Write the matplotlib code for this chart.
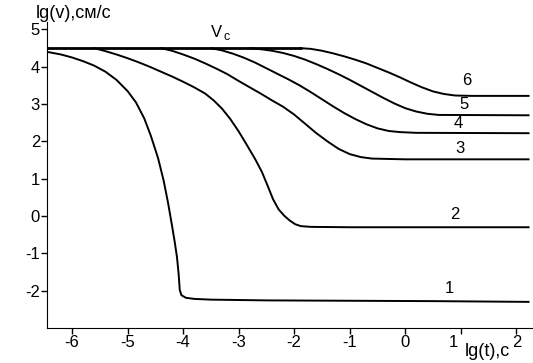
import matplotlib
matplotlib.use('Agg')
import matplotlib.pyplot as plt
from matplotlib.transforms import ScaledTranslation

plt.rcParams['font.family'] = ['Liberation Sans', 'DejaVu Sans']

# V_c plateau shared by all curves at the start
vc_level = 4.5
vc_t = [-6.45, -1.85]

# curve 1
c1_t = [-6.45, -6.2, -6.0, -5.8, -5.6, -5.4, -5.2, -5.0, -4.85, -4.7, -4.58, -4.45, -4.35, -4.27,
        -4.2, -4.15, -4.11, -4.08, -4.06, -4.03, -3.95, -3.8, -3.5, -2.5, -1.0, 0.5, 2.22]
c1_v = [4.40, 4.33, 4.25, 4.15, 4.03, 3.87, 3.65, 3.35, 3.05, 2.62, 2.15, 1.55, 0.95, 0.35,
        -0.25, -0.70, -1.10, -1.55, -1.98, -2.12, -2.19, -2.22, -2.24, -2.26, -2.27, -2.28, -2.30]
# curve 2
c2_t = [-5.6, -5.4, -5.2, -5.0, -4.8, -4.6, -4.4, -4.2, -4.0, -3.8, -3.6, -3.45, -3.3, -3.15,
        -3.0, -2.85, -2.7, -2.58, -2.48, -2.38, -2.28, -2.18, -2.08, -1.98, -1.88, -1.7, -1.0, 2.22]
c2_v = [4.50, 4.42, 4.33, 4.23, 4.12, 4.00, 3.87, 3.74, 3.60, 3.45, 3.28, 3.10, 2.88, 2.60,
        2.27, 1.90, 1.52, 1.18, 0.82, 0.45, 0.18, 0.01, -0.12, -0.22, -0.27, -0.29, -0.30, -0.30]
# curve 3
c3_t = [-4.4, -4.2, -4.0, -3.8, -3.6, -3.4, -3.2, -3.0, -2.8, -2.6, -2.4, -2.2, -2.0, -1.8,
        -1.6, -1.4, -1.2, -1.0, -0.8, -0.6, 0.0, 2.22]
c3_v = [4.50, 4.43, 4.33, 4.22, 4.09, 3.95, 3.80, 3.62, 3.45, 3.28, 3.10, 2.93, 2.72, 2.47,
        2.22, 2.00, 1.80, 1.66, 1.58, 1.54, 1.52, 1.52]
# curve 4
c4_t = [-3.5, -3.3, -3.1, -2.9, -2.7, -2.5, -2.3, -2.1, -1.9, -1.7, -1.5, -1.3, -1.1, -0.9,
        -0.7, -0.5, -0.3, -0.1, 0.2, 2.22]
c4_v = [4.50, 4.44, 4.35, 4.24, 4.11, 3.96, 3.81, 3.66, 3.50, 3.32, 3.13, 2.94, 2.76, 2.60,
        2.46, 2.35, 2.28, 2.25, 2.23, 2.22]
# curve 5
c5_t = [-2.8, -2.6, -2.4, -2.2, -2.0, -1.8, -1.6, -1.4, -1.2, -1.0, -0.8, -0.6, -0.4, -0.2,
        0.0, 0.2, 0.4, 0.6, 2.22]
c5_v = [4.50, 4.47, 4.43, 4.37, 4.29, 4.19, 4.07, 3.94, 3.80, 3.65, 3.49, 3.33, 3.17, 3.02,
        2.89, 2.80, 2.74, 2.71, 2.70]
# curve 6
c6_t = [-1.9, -1.7, -1.5, -1.3, -1.1, -0.9, -0.7, -0.5, -0.3, -0.1, 0.1, 0.3, 0.5, 0.7,
        0.9, 1.2, 2.22]
c6_v = [4.50, 4.48, 4.43, 4.36, 4.28, 4.19, 4.09, 3.97, 3.85, 3.72, 3.58, 3.45, 3.34, 3.27,
        3.23, 3.22, 3.22]

curve_labels = ['1', '2', '3', '4', '5', '6']
label_t = [0.80, 0.89, 0.98, 0.96, 1.06, 1.10]
label_v = [-1.93, 0.03, 1.82, 2.49, 2.98, 3.62]

x_ticks = [-6, -5, -4, -3, -2, -1, 0, 1, 2]
y_ticks = [-2, -1, 0, 1, 2, 3, 4, 5]

fig = plt.figure(figsize=(5.33, 3.63), dpi=100)
ax = fig.add_axes([47 / 533, 35 / 363, 1 - 47 / 533, (328 - 22) / 363])

ax.plot(vc_t, [vc_level, vc_level], color='black', lw=2.0, solid_capstyle='butt')
curves = [(c1_t, c1_v), (c2_t, c2_v), (c3_t, c3_v), (c4_t, c4_v), (c5_t, c5_v), (c6_t, c6_v)]
for t, v in curves:
    ax.plot(t, v, color='black', lw=1.4)

for lab, t, v in zip(curve_labels, label_t, label_v):
    ax.text(t, v, lab, fontsize=12, ha='center', va='center')

ax.text(-3.39, 4.93, 'V', fontsize=12, ha='center', va='center')
ax.text(-3.22, 4.80, 'с', fontsize=9, ha='center', va='center')

ax.set_xlim(-6.45, 2.3)
ax.set_ylim(-3.0, 5.2)
ax.set_xticks(x_ticks)
ax.set_yticks(y_ticks)
ax.set_xticklabels([str(x) for x in x_ticks])
ax.set_yticklabels([str(y) for y in y_ticks])
ax.tick_params(direction='out', length=4, width=1, labelsize=12, pad=1)
ax.spines['top'].set_visible(False)
ax.spines['right'].set_visible(False)

# the "1" label sits a bit left of its tick to leave room for the axis title
lab1 = ax.get_xticklabels()[x_ticks.index(1)]
lab1.set_transform(lab1.get_transform() + ScaledTranslation(-7 / 100, 0, fig.dpi_scale_trans))

fig.text(36 / 533, 1 - 13 / 363, 'lg(v),см/с', fontsize=13, ha='left', va='center')
fig.text(465 / 533, 1 - 351 / 363, 'lg(t),с', fontsize=13, ha='left', va='center')

fig.savefig('out.png', dpi=100)
